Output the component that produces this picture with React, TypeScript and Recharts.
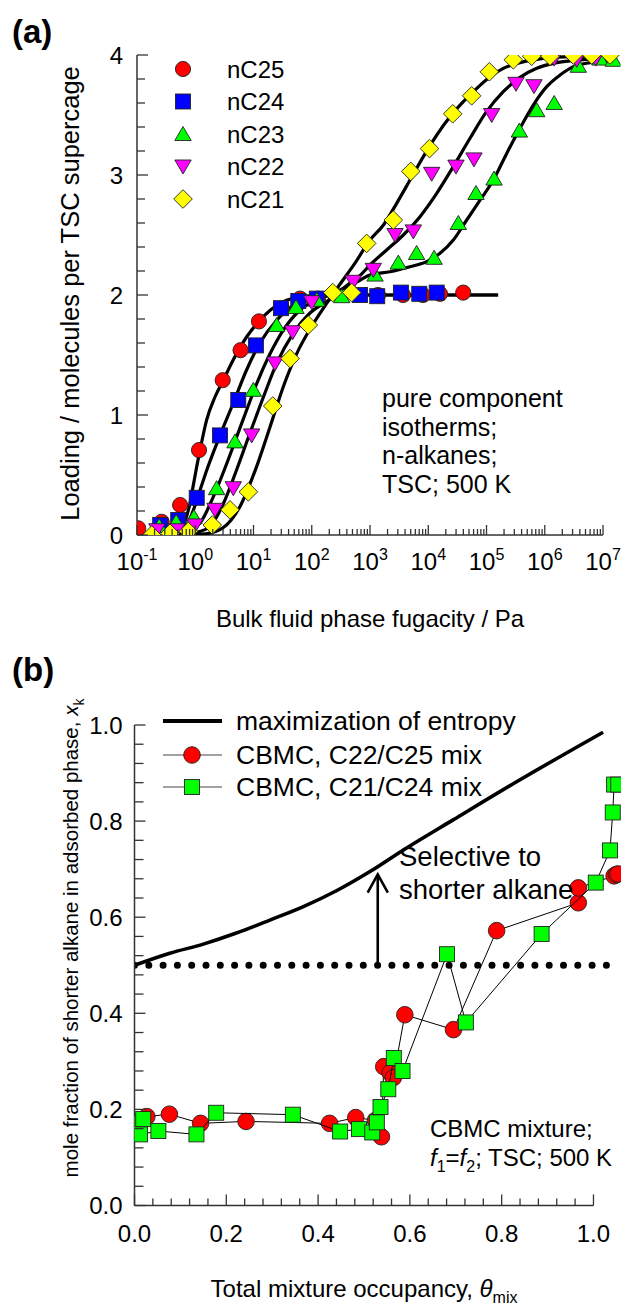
import React from 'react';
import { ComposedChart, Scatter, Line, XAxis, YAxis, ReferenceLine } from 'recharts';

const FONT = '"Liberation Sans", Arial, Helvetica, sans-serif';
const AXIS = '#333';

type Pt = { x: number; y: number };
const toPts = (rows: number[][]): Pt[] => rows.map(([x, y]) => ({ x, y }));

// ---------- Panel (a): pure component isotherms, TSC, 500 K ----------
const decadeExponents = [-1, 0, 1, 2, 3, 4, 5, 6, 7];
const loadingTicks = [0, 0.2, 0.4, 0.6, 0.8, 1, 1.2, 1.4, 1.6, 1.8, 2, 2.2, 2.4, 2.6, 2.8, 3, 3.2, 3.4, 3.6, 3.8, 4];

// CBMC simulation points (fugacity / Pa, molecules per supercage)
const nC25Sim = toPts([
  [0.105, 0.056], [0.265, 0.11], [0.55, 0.25], [1.16, 0.708], [2.96, 1.29], [6.0, 1.54], [12.4, 1.78],
  [30.5, 1.89], [63, 1.97], [128, 1.97], [1370, 2.0], [3680, 2.0], [8100, 2.0], [15900, 2.01], [39800, 2.02],
]);
const nC24Sim = toPts([
  [0.25, 0.083], [0.51, 0.125], [1.06, 0.31], [2.66, 0.83], [5.48, 1.125], [11.0, 1.58], [29.6, 1.89],
  [58.7, 1.95], [122, 1.97], [673, 2.0], [1330, 1.99], [3390, 2.02], [7010, 2.01], [13960, 2.02],
]);
const nC23Sim = toPts([
  [0.24, 0.075], [0.47, 0.11], [0.95, 0.15], [2.33, 0.39], [4.81, 0.78], [9.93, 1.21], [25.0, 1.75],
  [53.7, 1.9], [122, 1.96], [327, 1.99], [1220, 2.17], [3060, 2.27], [6310, 2.35], [12600, 2.31],
  [32800, 2.6], [66000, 2.85], [134700, 2.97], [366000, 3.37], [728000, 3.54], [1.45e6, 3.6],
  [3.77e6, 3.91], [8.87e6, 3.97], [1.5e7, 3.96],
]);
const nC22Sim = toPts([
  [0.22, 0.04], [0.48, 0.04], [0.99, 0.08], [2.18, 0.21], [4.5, 0.39], [9.3, 0.83], [23.4, 1.43],
  [47.1, 1.69], [99.8, 1.94], [517, 2.11], [1140, 2.21], [2690, 2.5], [5540, 2.53], [11450, 3.01],
  [29900, 3.07], [60900, 3.13], [122600, 3.5], [320600, 3.76], [653000, 3.74], [1.45e6, 3.97],
  [3.54e6, 3.96], [7.5e6, 3.97], [1.4e7, 4.0],
]);
const nC21Sim = toPts([
  [0.179, 0.0], [0.369, 0.014], [0.76, 0.03], [1.96, 0.083], [3.95, 0.21], [8.15, 0.36], [21.4, 1.075],
  [42.4, 1.47], [87.3, 1.75], [229, 2.02], [485, 2.02], [877, 2.43], [2510, 2.625], [5010, 3.03],
  [10500, 3.22], [26300, 3.51], [55600, 3.66], [111700, 3.86], [288000, 3.96], [596000, 3.99],
  [1.23e6, 3.99], [3.09e6, 4.0], [6.4e6, 4.0], [1.32e7, 4.0],
]);

// Fitted isotherm curves
const nC25Fit = toPts([
  [0.3, 0.01], [0.55, 0.05], [0.67, 0.12], [0.8, 0.25], [0.93, 0.42], [1.07, 0.58], [1.21, 0.71],
  [1.57, 0.96], [2.18, 1.15], [3.03, 1.29], [4.5, 1.46], [7.6, 1.65], [12.9, 1.79], [28.5, 1.93],
  [80, 1.99], [300, 2.0], [1.58e5, 2.0],
]);
const nC24Fit = toPts([
  [0.4, 0.02], [0.7, 0.08], [1.0, 0.25], [1.3, 0.42], [1.6, 0.55], [2.66, 0.83], [4.5, 1.1],
  [7.6, 1.375], [12.9, 1.6], [25, 1.79], [55, 1.93], [120, 1.98], [400, 2.0], [1.58e5, 2.0],
]);
const nC23Fit = toPts([
  [0.5, 0.01], [0.9, 0.05], [1.21, 0.1], [2.05, 0.32], [3.5, 0.6], [4.81, 0.78], [7.6, 1.04],
  [11.3, 1.26], [19.2, 1.51], [32.7, 1.71], [63, 1.875], [139, 1.97], [300, 2.04], [600, 2.11],
  [1000, 2.167], [2200, 2.194], [4860, 2.236], [9400, 2.278], [15900, 2.347], [26900, 2.458],
  [45700, 2.625], [77300, 2.79], [1.31e5, 2.958], [2.22e5, 3.18], [3.76e5, 3.39], [6.35e5, 3.583],
  [1.08e6, 3.736], [1.83e6, 3.833], [3.09e6, 3.903], [6.0e6, 3.936], [1.5e7, 3.955],
]);
const nC22Fit = toPts([
  [0.7, 0.01], [1.2, 0.03], [1.79, 0.07], [3.03, 0.26], [5.1, 0.54], [8.7, 0.85], [14.8, 1.15],
  [25, 1.43], [48, 1.68], [93, 1.85], [200, 1.96], [400, 2.08], [700, 2.17], [1000, 2.25],
  [1930, 2.375], [3730, 2.5], [7210, 2.653], [13960, 2.847], [26900, 3.07], [52100, 3.306],
  [1.0e5, 3.528], [1.94e5, 3.694], [3.76e5, 3.814], [7.3e5, 3.889], [1.6e6, 3.936], [5.2e6, 3.964],
  [1.5e7, 3.972],
]);
const nC21Fit = toPts([
  [1.0, 0.005], [1.5, 0.01], [3, 0.06], [5.9, 0.24], [11.3, 0.57], [19.2, 0.9], [32.7, 1.24],
  [55, 1.51], [106, 1.76], [180, 1.93], [316, 2.1], [560, 2.27], [1000, 2.458], [1700, 2.583],
  [2870, 2.764], [4860, 2.958], [8230, 3.153], [13960, 3.333], [23600, 3.486], [40000, 3.611],
  [68000, 3.722], [115000, 3.819], [194000, 3.889], [376000, 3.936], [945000, 3.972],
  [2.7e6, 3.986], [1.5e7, 3.994],
]);

// ---------- Panel (b): CBMC mixtures, f1 = f2 ----------
const occupancyTicks = Array.from({ length: 26 }, (_, i) => i * 0.04);
const fractionTicks = Array.from({ length: 26 }, (_, i) => i * 0.04);

const entropyCurve = toPts([
  [0, 0.5], [0.077, 0.525], [0.15, 0.544], [0.222, 0.567], [0.295, 0.594], [0.368, 0.622],
  [0.44, 0.655], [0.513, 0.695], [0.586, 0.74], [0.695, 0.803], [0.84, 0.886], [1.021, 0.985],
]);
const equalFraction = toPts([[0, 0.5], [1.03, 0.5]]);
const arrowShaft = toPts([[0.53, 0.5], [0.53, 0.689]]);
const arrowHead = toPts([[0.508, 0.651], [0.53, 0.689], [0.552, 0.651]]);

const mixC22C25 = toPts([
  [0.003, 0.165], [0.027, 0.185], [0.076, 0.19], [0.144, 0.171], [0.243, 0.175], [0.425, 0.171],
  [0.482, 0.183], [0.525, 0.177], [0.538, 0.143], [0.543, 0.289], [0.557, 0.276], [0.564, 0.266],
  [0.589, 0.397], [0.695, 0.366], [0.789, 0.572], [0.967, 0.63], [0.967, 0.661], [1.045, 0.686],
  [1.05, 0.689], [1.054, 0.69],
]);
const mixC21C24 = toPts([
  [0.002, 0.172], [0.019, 0.18], [0.012, 0.148], [0.052, 0.155], [0.135, 0.148], [0.178, 0.193],
  [0.345, 0.189], [0.448, 0.154], [0.489, 0.159], [0.518, 0.152], [0.528, 0.173], [0.536, 0.205],
  [0.553, 0.242], [0.565, 0.307], [0.584, 0.28], [0.681, 0.523], [0.722, 0.381], [0.887, 0.565],
  [1.005, 0.672], [1.036, 0.739], [1.042, 0.818], [1.045, 0.876], [1.054, 0.876],
]);

// ---------- marker shapes ----------
const EDGE = '#222';
const circle = (cx: number, cy: number, r: number, fill: string) => (
  <circle cx={cx} cy={cy} r={r} fill={fill} stroke={EDGE} strokeWidth={0.9} />
);
const square = (cx: number, cy: number, s: number, fill: string) => (
  <rect x={cx - s / 2} y={cy - s / 2} width={s} height={s} fill={fill} stroke={EDGE} strokeWidth={0.9} />
);
const triUp = (cx: number, cy: number, fill: string) => (
  <polygon points={`${cx},${cy - 7.5} ${cx - 8.2},${cy + 6.5} ${cx + 8.2},${cy + 6.5}`} fill={fill} stroke={EDGE} strokeWidth={0.9} />
);
const triDown = (cx: number, cy: number, fill: string) => (
  <polygon points={`${cx - 8.2},${cy - 6.5} ${cx + 8.2},${cy - 6.5} ${cx},${cy + 7.5}`} fill={fill} stroke={EDGE} strokeWidth={0.9} />
);
const diamond = (cx: number, cy: number, fill: string) => (
  <polygon points={`${cx},${cy - 9.3} ${cx + 9.3},${cy} ${cx},${cy + 9.3} ${cx - 9.3},${cy}`} fill={fill} stroke={EDGE} strokeWidth={0.9} />
);

const RED = '#ff0000';
const BLUE = '#0000ff';
const GREEN = '#00ff00';
const MAGENTA = '#ff00ff';
const YELLOW = '#ffff00';

// ---------- axis ticks ----------
const logTicks: number[] = [];
decadeExponents.forEach((e) => {
  if (e === 7) {
    logTicks.push(1e7);
    return;
  }
  for (let m = 1; m <= 9; m++) logTicks.push(m * Math.pow(10, e));
});

const LogXTick = (props: any) => {
  const { x, y, payload } = props;
  const lg = Math.log10(payload.value);
  const e = Math.round(lg);
  const major = Math.abs(lg - e) < 1e-6;
  return (
    <g>
      <line x1={x} x2={x} y1={y} y2={y - (major ? 10 : 6)} stroke={AXIS} strokeWidth={1.3} />
      {major && (
        <text x={x} y={y + 35} textAnchor="middle" fontSize={24} fontFamily={FONT} fill="#000">
          10<tspan dy={-10} fontSize={16}>{e}</tspan>
        </text>
      )}
    </g>
  );
};

const LoadingTick = (props: any) => {
  const { x, y, payload } = props;
  const v = payload.value;
  const major = Math.abs(v - Math.round(v)) < 1e-6;
  return (
    <g>
      <line x1={x} x2={x + (major ? 11 : 8)} y1={y} y2={y} stroke={AXIS} strokeWidth={1.3} />
      {major && (
        <text x={x - 14} y={y + 8.5} textAnchor="end" fontSize={24} fontFamily={FONT} fill="#000">
          {Math.round(v)}
        </text>
      )}
    </g>
  );
};

const isFifth = (v: number) => Math.abs(v * 5 - Math.round(v * 5)) < 1e-6;

const OccupancyTick = (props: any) => {
  const { x, y, payload } = props;
  const v = payload.value;
  const major = isFifth(v);
  return (
    <g>
      <line x1={x} x2={x} y1={y} y2={y - (major ? 11 : 7)} stroke={AXIS} strokeWidth={1.3} />
      {major && (
        <text x={x} y={y + 36} textAnchor="middle" fontSize={24} fontFamily={FONT} fill="#000">
          {v.toFixed(1)}
        </text>
      )}
    </g>
  );
};

const FractionTick = (props: any) => {
  const { x, y, payload } = props;
  const v = payload.value;
  const major = isFifth(v);
  return (
    <g>
      <line x1={x} x2={x + (major ? 11 : 9)} y1={y} y2={y} stroke={AXIS} strokeWidth={1.3} />
      {major && (
        <text x={x - 12} y={y + 8.5} textAnchor="end" fontSize={24} fontFamily={FONT} fill="#000">
          {v.toFixed(1)}
        </text>
      )}
    </g>
  );
};

const X_MAX_A = Math.pow(10, 7.3);

const txt = { fontFamily: FONT, fill: '#000' } as const;

export default function App() {
  return (
    <div style={{ position: 'relative', width: 630, height: 1299, fontFamily: FONT, background: '#fff' }}>
      {/* (a) isotherms */}
      <div style={{ position: 'absolute', left: 0, top: 0 }}>
        <ComposedChart width={630} height={640} margin={{ top: 47, right: 17.5, bottom: 73, left: 79 }}>
          <XAxis
            dataKey="x" type="number" scale="log" domain={[0.1, X_MAX_A]} allowDataOverflow
            ticks={logTicks} interval={0} axisLine={false} tickLine={false} tickSize={0} tickMargin={0}
            tick={(p: any) => <LogXTick {...p} />} height={40}
          />
          <YAxis
            dataKey="y" type="number" domain={[0, 4]} allowDataOverflow ticks={loadingTicks} interval={0}
            axisLine={{ stroke: AXIS, strokeWidth: 1.5 }} tickLine={false} tickSize={0} tickMargin={0}
            tick={(p: any) => <LoadingTick {...p} />} width={50}
          />
          <ReferenceLine segment={[{ x: 0.1, y: 0 }, { x: 1e7, y: 0 }]} stroke={AXIS} strokeWidth={1.5} ifOverflow="visible" />
          {[nC25Fit, nC24Fit, nC23Fit, nC22Fit, nC21Fit].map((d, i) => (
            <Line key={i} data={d} dataKey="y" type="monotone" stroke="#000" strokeWidth={3.2} dot={false} isAnimationActive={false} />
          ))}
          <Scatter data={nC25Sim} isAnimationActive={false} shape={(p: any) => circle(p.cx, p.cy, 7.6, RED)} />
          <Scatter data={nC24Sim} isAnimationActive={false} shape={(p: any) => square(p.cx, p.cy, 15, BLUE)} />
          <Scatter data={nC23Sim} isAnimationActive={false} shape={(p: any) => triUp(p.cx, p.cy, GREEN)} />
          <Scatter data={nC22Sim} isAnimationActive={false} shape={(p: any) => triDown(p.cx, p.cy, MAGENTA)} />
          <Scatter data={nC21Sim} isAnimationActive={false} shape={(p: any) => diamond(p.cx, p.cy, YELLOW)} />
        </ComposedChart>
      </div>

      {/* (b) mixture adsorption */}
      <div style={{ position: 'absolute', left: 0, top: 650 }}>
        <ComposedChart width={630} height={649} margin={{ top: 67, right: 17, bottom: 61.5, left: 76.5 }}>
          <XAxis
            dataKey="x" type="number" domain={[0, 1.06]} allowDataOverflow ticks={occupancyTicks} interval={0}
            axisLine={false} tickLine={false} tickSize={0} tickMargin={0}
            tick={(p: any) => <OccupancyTick {...p} />} height={40}
          />
          <YAxis
            dataKey="y" type="number" domain={[0, 1]} allowDataOverflow ticks={fractionTicks} interval={0}
            axisLine={{ stroke: AXIS, strokeWidth: 1.5 }} tickLine={false} tickSize={0} tickMargin={0}
            tick={(p: any) => <FractionTick {...p} />} width={50}
          />
          <ReferenceLine segment={[{ x: 0, y: 0 }, { x: 1, y: 0 }]} stroke={AXIS} strokeWidth={1.5} ifOverflow="visible" />
          <Line data={entropyCurve} dataKey="y" type="monotone" stroke="#000" strokeWidth={3.6} dot={false} isAnimationActive={false} />
          <Line data={equalFraction} dataKey="y" type="linear" stroke="#000" strokeWidth={7} strokeDasharray="0 14.3" strokeLinecap="round" dot={false} isAnimationActive={false} />
          <Line data={arrowShaft} dataKey="y" type="linear" stroke="#000" strokeWidth={2.6} dot={false} isAnimationActive={false} />
          <Line data={arrowHead} dataKey="y" type="linear" stroke="#000" strokeWidth={2.6} dot={false} isAnimationActive={false} />
          <Scatter data={mixC22C25} isAnimationActive={false} line={{ stroke: '#000', strokeWidth: 1 }} lineType="joint"
            shape={(p: any) => circle(p.cx, p.cy, 8.3, RED)} />
          <Scatter data={mixC21C24} isAnimationActive={false} line={{ stroke: '#000', strokeWidth: 1 }} lineType="joint"
            shape={(p: any) => square(p.cx, p.cy, 15, GREEN)} />
        </ComposedChart>
      </div>

      {/* titles, legends and notes */}
      <svg width={630} height={1299} style={{ position: 'absolute', left: 0, top: 0, pointerEvents: 'none' }}>
        <text x={4} y={35} fontSize={33} fontWeight="bold" {...txt}>(a)</text>
        <text x={4} y={673} fontSize={33} fontWeight="bold" {...txt}>(b)</text>

        <text transform="translate(71,285.5) rotate(-90)" textAnchor="middle" fontSize={25.5} {...txt}>
          Loading / molecules per TSC supercage
        </text>
        <text x={362} y={619} textAnchor="middle" fontSize={24} {...txt}>Bulk fluid phase fugacity / Pa</text>

        {[
          { label: 'nC25', m: (cx: number, cy: number) => circle(cx, cy, 7.6, RED) },
          { label: 'nC24', m: (cx: number, cy: number) => square(cx, cy, 15, BLUE) },
          { label: 'nC23', m: (cx: number, cy: number) => triUp(cx, cy, GREEN) },
          { label: 'nC22', m: (cx: number, cy: number) => triDown(cx, cy, MAGENTA) },
          { label: 'nC21', m: (cx: number, cy: number) => diamond(cx, cy, YELLOW) },
        ].map((row, i) => {
          const cy = 61 + i * 32.5;
          return (
            <g key={row.label}>
              {row.m(175, cy)}
              <text x={219} y={cy + 8.5} fontSize={24} {...txt}>{row.label}</text>
            </g>
          );
        })}

        <text fontSize={25} {...txt}>
          <tspan x={374} y={399}>pure component</tspan>
          <tspan x={374} y={428}>isotherms;</tspan>
          <tspan x={374} y={456}>n-alkanes;</tspan>
          <tspan x={374} y={485}>TSC; 500 K</tspan>
        </text>

        <text transform="translate(70,930) rotate(-90)" textAnchor="middle" fontSize={20.5} {...txt}>
          mole fraction of shorter alkane in adsorbed phase, <tspan fontStyle="italic">x</tspan>
          <tspan fontSize={14} dy={6}>k</tspan>
        </text>
        <text x={356} y={1289} textAnchor="middle" fontSize={24} {...txt}>
          Total mixture occupancy, <tspan fontStyle="italic">θ</tspan>
          <tspan fontSize={16} dy={6}>mix</tspan>
        </text>

        <line x1={155} x2={214} y1={713} y2={713} stroke="#000" strokeWidth={4} />
        <text x={228} y={722} fontSize={26.5} {...txt}>maximization of entropy</text>
        <line x1={155} x2={214} y1={747} y2={747} stroke="#444" strokeWidth={1.2} />
        {circle(184, 747, 8.3, RED)}
        <text x={228} y={756} fontSize={26.5} {...txt}>CBMC, C22/C25 mix</text>
        <line x1={155} x2={214} y1={779} y2={779} stroke="#444" strokeWidth={1.2} />
        {square(184, 779, 15, GREEN)}
        <text x={228} y={788} fontSize={26.5} {...txt}>CBMC, C21/C24 mix</text>

        <text fontSize={27.5} {...txt}>
          <tspan x={391} y={858}>Selective to</tspan>
          <tspan x={391} y={891}>shorter alkane</tspan>
        </text>

        <text x={422} y={1129} fontSize={24} {...txt}>CBMC mixture;</text>
        <text x={422} y={1158} fontSize={24} {...txt}>
          <tspan fontStyle="italic">f</tspan>
          <tspan fontSize={16} dy={6}>1</tspan>
          <tspan dy={-6}>=</tspan>
          <tspan fontStyle="italic">f</tspan>
          <tspan fontSize={16} dy={6}>2</tspan>
          <tspan dy={-6}>; TSC; 500 K</tspan>
        </text>
      </svg>
    </div>
  );
}
